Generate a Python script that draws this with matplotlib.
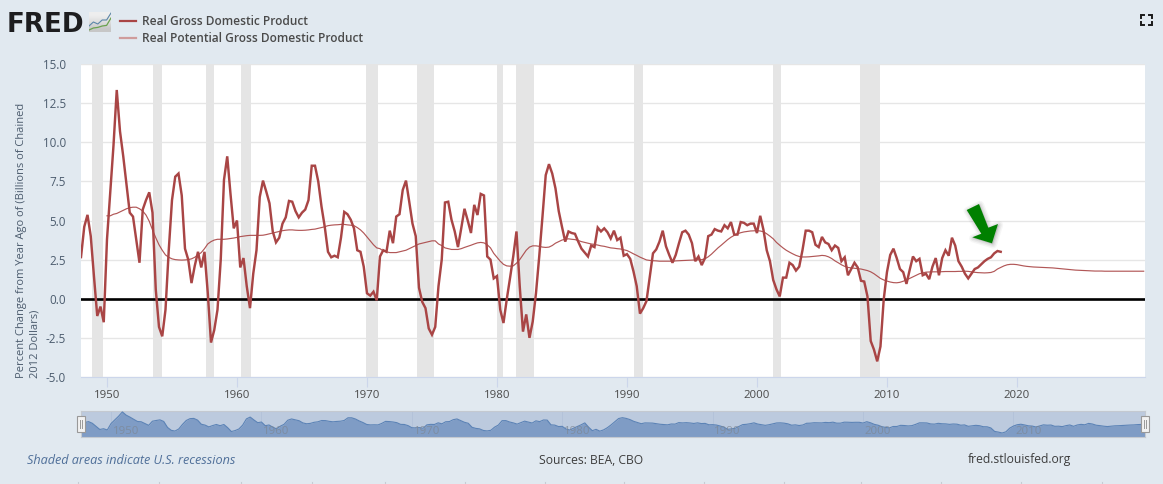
import numpy as np
import matplotlib
matplotlib.use("Agg")
import matplotlib.pyplot as plt
from matplotlib.patches import Polygon, Rectangle

W, H = 1163, 484
START_GDP = 1948.0
START_POT = 1950.0

gdp = [
 2.66,4.6,5.36,4.0,
 1.4,-1.1,-0.5,-1.5,
 3.8,6.8,9.8,13.34,
 10.7,9.1,7.3,5.5,
 5.25,3.8,2.3,5.7,
 6.3,6.8,5.5,0.6,
 -1.8,-2.4,-0.7,3.1,
 6.3,7.8,8.0,6.6,
 3.2,2.5,1.0,2.1,
 3.0,2.0,3.0,0.4,
 -2.8,-2.0,-0.7,2.5,
 7.6,9.1,6.7,4.5,
 5.0,2.0,2.6,0.8,
 -0.6,1.6,3.1,6.5,
 7.55,6.85,6.1,4.3,
 3.6,3.9,4.8,5.2,
 6.25,6.2,5.6,5.2,
 5.5,5.7,6.3,8.5,
 8.5,7.5,5.9,4.6,
 3.0,2.65,2.75,2.65,
 3.9,5.55,5.4,5.05,
 4.5,3.1,3.0,2.05,
 0.35,0.2,0.45,-0.1,
 2.7,3.1,3.0,4.35,
 3.55,5.25,5.4,6.95,
 7.55,6.2,4.8,4.0,
 0.7,-0.2,-0.6,-1.9,
 -2.3,-1.8,0.8,2.5,
 6.15,6.2,5.05,4.3,
 3.3,4.5,5.75,5.0,
 4.2,6.0,5.35,6.7,
 6.6,2.7,2.5,1.3,
 1.45,-0.7,-1.55,-0.05,
 1.3,2.7,4.3,0.8,
 -2.1,-1.0,-2.5,-1.45,
 0.35,2.7,5.25,7.9,
 8.6,8.0,7.05,5.6,
 4.6,3.65,4.3,4.2,
 4.15,3.65,3.2,2.95,
 2.7,3.4,3.3,4.55,
 4.3,4.5,4.25,3.85,
 4.35,3.75,3.9,2.75,
 2.85,2.55,1.75,0.8,
 -0.95,-0.6,-0.15,1.4,
 2.9,3.15,3.65,4.35,
 3.35,2.8,2.3,2.8,
 3.55,4.25,4.35,4.1,
 3.55,2.4,2.7,2.15,
 2.6,4.0,4.1,4.45,
 4.35,4.3,4.7,4.5,
 4.9,4.1,4.1,4.9,
 4.85,4.7,4.8,4.8,
 4.2,5.3,4.4,3.1,
 2.4,1.2,0.6,0.15,
 1.35,1.35,2.3,2.15,
 1.8,2.05,3.1,4.35,
 4.35,4.25,3.45,3.3,
 3.95,3.6,3.5,3.1,
 3.4,3.25,2.4,2.65,
 1.5,1.9,2.3,2.0,
 1.15,1.1,0.15,-2.7,
 -3.25,-4.0,-3.05,-0.05,
 1.7,2.8,3.2,2.6,
 1.9,1.7,0.95,1.85,
 2.7,2.4,2.55,1.5,
 1.6,1.25,2.05,2.6,
 1.5,2.6,3.1,2.75,
 3.9,3.4,2.4,2.05,
 1.6,1.3,1.6,1.9,
 2.0,2.2,2.4,2.55,
 2.65,2.9,3.05,3.0,
]

potential = [
 5.3,5.3,5.4,5.45,
 5.55,5.65,5.75,5.82,
 5.85,5.85,5.75,5.6,
 5.35,4.95,4.4,3.9,
 3.45,3.1,2.8,2.65,
 2.55,2.5,2.48,2.47,
 2.48,2.5,2.55,2.65,
 2.8,2.95,3.2,3.5,
 3.65,3.75,3.8,3.8,
 3.8,3.82,3.85,3.88,
 3.92,3.97,4.0,4.03,
 4.05,4.05,4.05,4.05,
 4.06,4.1,4.15,4.2,
 4.25,4.3,4.35,4.38,
 4.4,4.4,4.38,4.37,
 4.37,4.38,4.4,4.43,
 4.45,4.5,4.55,4.6,
 4.67,4.7,4.72,4.73,
 4.75,4.75,4.72,4.7,
 4.67,4.55,4.4,4.2,
 3.95,3.7,3.45,3.25,
 3.2,3.05,3.0,2.95,
 2.95,2.95,3.0,3.05,
 3.1,3.2,3.3,3.4,
 3.5,3.55,3.6,3.65,
 3.7,3.7,3.5,3.4,
 3.25,3.2,3.15,3.15,
 3.15,3.2,3.28,3.35,
 3.42,3.5,3.57,3.6,
 3.57,3.45,3.25,2.9,
 2.65,2.4,2.2,2.1,
 2.08,2.1,2.27,2.5,
 2.8,3.1,3.3,3.38,
 3.38,3.35,3.3,3.28,
 3.3,3.4,3.55,3.65,
 3.75,3.8,3.83,3.8,
 3.78,3.72,3.65,3.6,
 3.55,3.5,3.47,3.43,
 3.38,3.35,3.3,3.25,
 3.23,3.2,3.18,3.13,
 3.08,2.98,2.87,2.77,
 2.66,2.57,2.48,2.45,
 2.43,2.42,2.4,2.4,
 2.4,2.4,2.4,2.42,
 2.43,2.44,2.45,2.46,
 2.47,2.48,2.49,2.5,
 2.55,2.68,2.85,3.05,
 3.25,3.42,3.6,3.78,
 3.93,4.05,4.15,4.22,
 4.27,4.3,4.33,4.34,
 4.35,4.33,4.28,4.15,
 4.0,3.83,3.6,3.42,
 3.25,3.1,2.98,2.87,
 2.77,2.7,2.67,2.67,
 2.68,2.7,2.72,2.74,
 2.77,2.75,2.68,2.57,
 2.42,2.3,2.17,2.07,
 2.0,1.97,1.95,1.92,
 1.9,1.85,1.8,1.72,
 1.6,1.45,1.3,1.2,
 1.13,1.07,1.03,1.02,
 1.05,1.12,1.2,1.3,
 1.4,1.5,1.6,1.65,
 1.7,1.71,1.72,1.72,
 1.72,1.73,1.74,1.74,
 1.74,1.74,1.75,1.75,
 1.76,1.75,1.72,1.69,
 1.67,1.66,1.65,1.66,
 1.68,1.75,1.9,2.0,
 2.1,2.17,2.2,2.2,
 2.18,2.14,2.1,2.07,
 2.05,2.03,2.02,2.01,
 2.0,1.99,1.98,1.97,
 1.95,1.93,1.91,1.89,
 1.87,1.85,1.83,1.82,
 1.81,1.8,1.79,1.78,
 1.77,1.77,1.77,1.76,
 1.76,1.76,1.76,1.76,
 1.76,1.76,1.76,1.76,
 1.76,1.76,1.76,1.76,
]

recessions = [(1948.82,1949.72),(1953.54,1954.26),(1957.62,1958.25),(1960.27,1961.08),
              (1969.92,1970.83),(1973.83,1975.17),(1980.0,1980.5),(1981.5,1982.83),
              (1990.54,1991.2),(2001.2,2001.87),(2007.95,2009.45)]
x_ticks = [1950,1960,1970,1980,1990,2000,2010,2020]
y_ticks = [-5.0,-2.5,0.0,2.5,5.0,7.5,10.0,12.5,15.0]
nav_ticks = [1950,1960,1970,1980,1990,2000,2010]
legend_labels = ["Real Gross Domestic Product","Real Potential Gross Domestic Product"]
ylabel = "Percent Change from Year Ago of (Billions of Chained\n2012 Dollars)"

BG="#e1e9f0"; TXT="#4a4a4a"; RED="#a94545"; SLATE="#4c5c6e"; TICK="#ccd6eb"
plt.rcParams['font.family']=['Open Sans','DejaVu Sans']

fig=plt.figure(figsize=(W/100,H/100),dpi=100,facecolor=BG)
def box(l,t,r,b):
    return [l/W,1-b/H,(r-l)/W,(b-t)/H]
def fx(x): return x/W
def fy(y): return 1-y/H

ax=fig.add_axes(box(81,64,1145,377),facecolor="white")
t_gdp=START_GDP+np.arange(len(gdp))/4
t_pot=START_POT+np.arange(len(potential))/4
ax.set_xlim(1948.0,2029.85); ax.set_ylim(-5,15)
ax.set_yticks(y_ticks); ax.set_yticklabels([f"{v:.1f}" for v in y_ticks])
ax.set_xticks(x_ticks)
ax.grid(axis='y',color="#e6e6e6",lw=1.0,zorder=1); ax.set_axisbelow(True)
for a,b in recessions:
    ax.axvspan(a,b,color="#e5e5e5",lw=0,zorder=1.5)
ax.axhline(0,color="black",lw=1.9,zorder=2.5)
ax.plot(t_pot,potential,color=RED,lw=0.85,alpha=0.9,zorder=3)
ax.plot(t_gdp,gdp,color=RED,lw=1.75,zorder=4,solid_joinstyle='miter')
for s in ['top','right','left']: ax.spines[s].set_visible(False)
ax.spines['bottom'].set_color(TICK); ax.spines['bottom'].set_linewidth(0.8)
ax.tick_params(axis='x',length=7,color=TICK,labelsize=8.2,labelcolor=TXT,pad=2,width=0.8)
ax.tick_params(axis='y',length=0,labelsize=8.4,labelcolor=SLATE,pad=10.8)
fig.text(fx(28.5),fy(377.5),ylabel,rotation=90,ha='center',va='bottom',
         fontsize=8.05,color=SLATE,linespacing=1.3,multialignment='left')

# navigator
nav=fig.add_axes(box(81,411,1145,437),facecolor="#bccade")
nav.set_xlim(1948.0,2018.75); nav.set_ylim(-7.3,14.1)
nav.fill_between(t_gdp,gdp,-7.3,color="#7f9cc5",lw=0,zorder=2)
nav.plot(t_gdp,gdp,color="#5c83b6",lw=0.8,zorder=3)
nav.set_xticks(nav_ticks); nav.set_xticklabels([]); nav.set_yticks([])
nav.tick_params(length=0)
nav.grid(axis='x',color="#b3c2d9",lw=0.7,zorder=1)
for y in nav_ticks:
    nav.text(y+1.0,-2.6,str(y),color="#7d8794",fontsize=8.2,ha='center',va='center',zorder=4,alpha=0.75)
for s in nav.spines.values(): s.set_color("#c4c9d0"); s.set_linewidth(0.8)
for hx in (81,1145):
    fig.add_artist(Rectangle((fx(hx-4),fy(431.5)),8/W,15.5/H,transform=fig.transFigure,fc="#f2f2f2",ec="#999999",lw=0.8,zorder=6))
    for dx in (-1,1):
        fig.add_artist(plt.Line2D([fx(hx+dx)]*2,[fy(420),fy(428)],color="#999999",lw=0.7,zorder=7))

# legend
fig.add_artist(plt.Line2D([fx(120),fx(136)],[fy(21)]*2,color=RED,lw=1.6))
fig.add_artist(plt.Line2D([fx(120),fx(136)],[fy(38)]*2,color="#cf9c9c",lw=1.6))
for lab,y in zip(legend_labels,(21.5,38.5)):
    fig.text(fx(141.5),fy(y),lab,fontsize=8.6,color="#4a4a4a",fontweight='semibold',va='center',ha='left')

# logo
fig.text(fx(6.5),fy(31.7),"FRED",fontsize=18.8,fontweight='bold',color="#1d1d1f",family='DejaVu Sans',va='baseline',ha='left')
ic=fig.add_axes(box(89,12,111,32))
ic.set_xlim(0,10); ic.set_ylim(0,10); ic.axis('off')
ic.imshow([[0.93],[0.87],[0.78]],cmap='gray',vmin=0,vmax=1,extent=(0,10,0,10),aspect='auto',interpolation='bilinear')
ic.plot([0,2,4,6,8,10],[3,5,4,6,6,9.5],color="#5b86a8",lw=0.8)
ic.plot([0,2,4,6,8,10],[1,2,2.3,3,3.3,7],color="#6aa24f",lw=0.9)
ic.set_xlim(0,10); ic.set_ylim(0,10)

# arrow
arrow=np.array([(966.7,210),(979,204),(988.3,227.7),(998,224),(992,243.3),(972.3,237.3),(981.3,233.7)])
af=np.c_[arrow[:,0]/W,1-arrow[:,1]/H]
for lw,al in ((6,0.05),(4,0.07),(2,0.09)):
    fig.add_artist(Polygon(af+[1/W,-1/H],closed=True,transform=fig.transFigure,fc="#555555",ec="#555555",lw=lw,alpha=al,joinstyle='round',zorder=8))
fig.add_artist(Polygon(af,closed=True,transform=fig.transFigure,fc="#008000",ec="none",zorder=9))

# fullscreen icon
for cx,cy,dx,dy in ((1140.5,14.5,1,1),(1152,14.5,-1,1),(1140.5,25,1,-1),(1152,25,-1,-1)):
    fig.add_artist(plt.Line2D([fx(cx+3*dx),fx(cx),fx(cx)],[fy(cy),fy(cy),fy(cy+3*dy)],color="#1a1a1a",lw=1.4,solid_joinstyle='miter'))

# footer
fig.text(fx(27),fy(460),"Shaded areas indicate U.S. recessions",fontsize=9.1,style='italic',color="#4f6f99",va='center',ha='left')
fig.text(fx(539),fy(460),"Sources: BEA, CBO",fontsize=8.7,color="#3d3d3d",va='center',ha='left')
fig.text(fx(968),fy(460),"fred.stlouisfed.org",fontsize=8.7,color="#3d3d3d",va='center',ha='left')
for x in (78,159,241,312,385,465,545,624,704,784,861,941,1021,1102):
    fig.add_artist(plt.Line2D([fx(x)]*2,[fy(481.5),fy(484)],color="#c6ccd3",lw=0.8))

fig.savefig("out.png",dpi=100,facecolor=BG)
